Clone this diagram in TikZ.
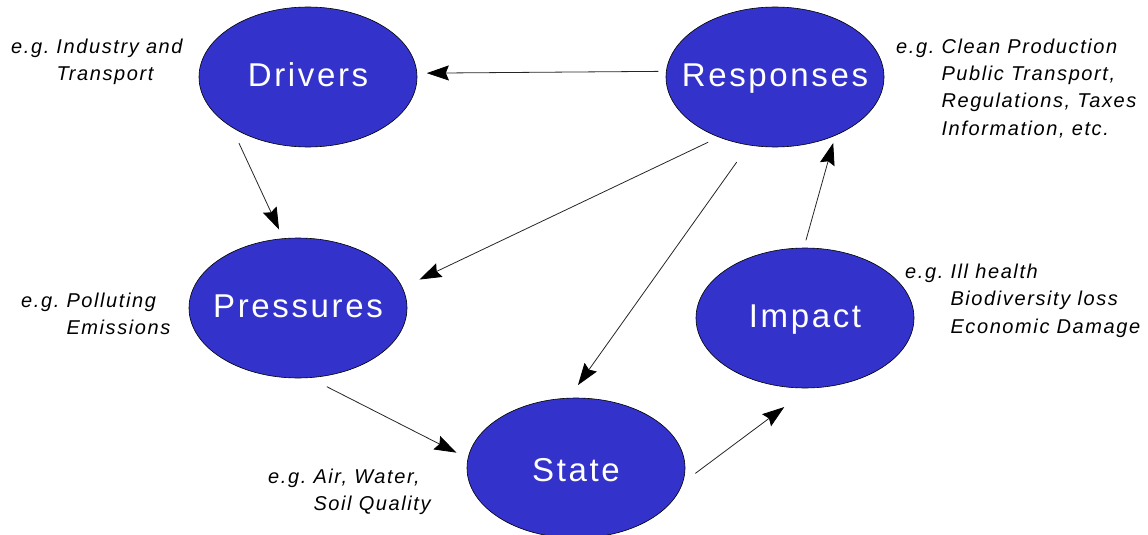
\documentclass[tikz,border=0pt]{standalone}
\usepackage{fontspec}
\newfontfamily\dpsirfont[LetterSpace=8]{Liberation Sans}
\usetikzlibrary{arrows.meta}
\usetikzlibrary{shapes.geometric}

\definecolor{dpsirblue}{RGB}{51,51,204}

\tikzset{
  stage/.style={ellipse, draw=black, line width=0.6pt, fill=dpsirblue, text=white,
    minimum width=218pt, minimum height=140pt, inner xsep=-50pt, inner ysep=0pt, outer sep=0pt,
    font=\dpsirfont\fontsize{33}{33}\selectfont, text height=18pt, text depth=0pt},
  example/.style={anchor=base west, inner sep=0pt,
    font=\dpsirfont\itshape\fontsize{20}{27.5}\selectfont},
  flow/.style={draw=black!85, line width=0.8pt,
    -{Stealth[length=22pt,width=15pt,inset=3pt,color=black]}}
}

\begin{document}
\begin{tikzpicture}[x=1pt,y=-1pt]
	\useasboundingbox (0,0) rectangle (1148,535);

	% the five stages
	\node[stage] (drv) at (308,77)  {Drivers};
	\node[stage] (rsp) at (775,77)  {Responses};
	\node[stage] (prs) at (298,308) {Pressures};
	\node[stage] (imp) at (805,318) {Impact};
	\node[stage, text height=26pt] (sta) at (576,468) {State};

	% examples beside each stage
	\node[example] (drvex) at (11,53)   {e.g.~\begin{tabular}[t]{@{}l@{}}Industry and\\Transport\end{tabular}};
	\node[example] (rspex) at (896,53)  {e.g.~\begin{tabular}[t]{@{}l@{}}Clean Production\\Public Transport,\\Regulations, Taxes\\Information, etc.\end{tabular}};
	\node[example] (prsex) at (21,307)  {e.g.~\begin{tabular}[t]{@{}l@{}}Polluting\\Emissions\end{tabular}};
	\node[example] (impex) at (905,278) {e.g.~\begin{tabular}[t]{@{}l@{}}Ill health\\Biodiversity loss\\Economic Damage\end{tabular}};
	\node[example] (staex) at (268,483) {e.g.~\begin{tabular}[t]{@{}l@{}}Air, Water,\\Soil Quality\end{tabular}};

	\path

	% causal chain
	(drv.-147.7) edge[flow, shorten <=18pt, shorten >=10pt] (prs.102.6)
	(prs.-81.3)  edge[flow, shorten <=20pt, shorten >=13pt] (sta.175.3)
	(sta.-8.4)   edge[flow, shorten <=16pt, shorten >=32pt] (imp.-86.5)
	(imp.91)     edge[flow, shorten <=8pt,  shorten >=8pt]  (rsp.-44.2)

	% responses acting back
	(rsp.177.9)  edge[flow, shorten <=8pt,  shorten >=10pt] (drv.2.1)
	(rsp.-133.6) edge[flow, shorten <=12pt, shorten >=19pt] (prs.11.9)
	(rsp.-111.5) edge[flow, shorten <=21pt, shorten >=16pt] (sta.96.9);
\end{tikzpicture}
\end{document}
